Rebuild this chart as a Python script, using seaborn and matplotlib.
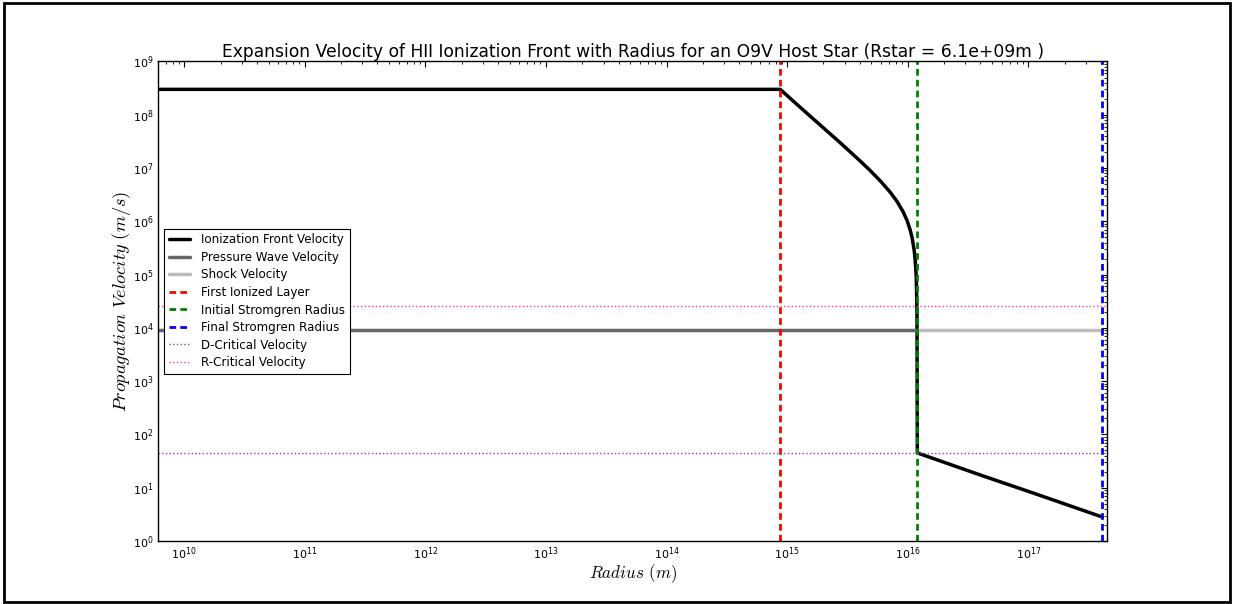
import numpy as np
import pandas as pd
import matplotlib
matplotlib.use("Agg")
import matplotlib.pyplot as plt
import seaborn as sns
from matplotlib.patches import Rectangle
from matplotlib.ticker import NullFormatter

# ---------------- data ----------------
r_star = 6.1e9            # stellar radius (m)
r_first_layer = 8.75e14   # first ionized layer
r_strom_initial = 1.2e16  # initial Stromgren radius
r_strom_final = 4.1e17    # final Stromgren radius

front_r = [6.1e9, 8.75e14, 1.282e15, 1.879e15, 2.75e15, 4.03e15, 4.88e15,
           5.90e15, 7.14e15, 8.17e15, 9.16e15, 9.89e15, 1.047e16, 1.087e16,
           1.13e16, 1.151e16, 1.175e16, 1.192e16, 1.2e16,
           4.22e16, 1.096e17, 4.1e17]
front_v = [3.0e8, 3.0e8, 1.38e8, 6.41e7, 2.99e7, 1.356e7, 8.96e6,
           5.77e6, 3.53e6, 2.34e6, 1.50e6, 1.02e6, 6.87e5, 4.86e5,
           2.85e5, 1.91e5, 9.2e4, 2.0e4, 45.0,
           16.6, 7.95, 2.82]

pressure_r = [6.1e9, 1.2e16]
pressure_v = [9.3e3, 9.3e3]
shock_r = [1.2e16, 4.1e17]
shock_v = [9.3e3, 9.3e3]

d_critical_v = 45.0
r_critical_v = 2.6e4

x_limits = [6.1e9, 4.51e17]
y_limits = [1.0, 1.0e9]
x_ticks = [1e10, 1e11, 1e12, 1e13, 1e14, 1e15, 1e16, 1e17]
y_ticks = [1e0, 1e1, 1e2, 1e3, 1e4, 1e5, 1e6, 1e7, 1e8, 1e9]

title = "Expansion Velocity of HII Ionization Front with Radius for an O9V Host Star (Rstar = 6.1e+09m )"

# ---------------- style ----------------
sns.set_style("white")
plt.rcParams["font.family"] = ["DejaVu Sans"]
plt.rcParams.update({
    "xtick.direction": "in", "ytick.direction": "in",
    "xtick.top": True, "ytick.right": True,
    "xtick.major.size": 4, "ytick.major.size": 4,
    "xtick.minor.size": 2, "ytick.minor.size": 2,
    "xtick.minor.visible": True, "ytick.minor.visible": True,
    "xtick.color": "black", "ytick.color": "black",
    "text.color": "black", "axes.labelcolor": "black",
    "axes.edgecolor": "black", "axes.linewidth": 1.0,
    "xtick.labelsize": 8, "ytick.labelsize": 8,
})

fig = plt.figure(figsize=(12.38, 6.04), dpi=100)
ax = fig.add_axes([0.1279, 0.1043, 0.7665, 0.7939])

front = pd.DataFrame({"r": front_r, "v": front_v})
press = pd.DataFrame({"r": pressure_r, "v": pressure_v})
shock = pd.DataFrame({"r": shock_r, "v": shock_v})

sns.lineplot(data=front, x="r", y="v", ax=ax, color="black", lw=2.5,
             estimator=None, sort=False, label="Ionization Front Velocity")
sns.lineplot(data=press, x="r", y="v", ax=ax, color="#666666", lw=2.5,
             estimator=None, sort=False, label="Pressure Wave Velocity")
sns.lineplot(data=shock, x="r", y="v", ax=ax, color="#bbbbbb", lw=2.5,
             estimator=None, sort=False, label="Shock Velocity")

dash = (2.4, 1.5)
ax.axvline(r_first_layer, color="red", lw=2, dashes=dash, label="First Ionized Layer")
ax.axvline(r_strom_initial, color="green", lw=2, dashes=dash, label="Initial Stromgren Radius")
ax.axvline(r_strom_final, color="blue", lw=2, dashes=dash, label="Final Stromgren Radius")
ax.axhline(d_critical_v, color="#9933aa", lw=1, ls=":", label="D-Critical Velocity")
ax.axhline(r_critical_v, color="#ff3399", lw=1, ls=":", label="R-Critical Velocity")

ax.set_xscale("log")
ax.set_yscale("log")
ax.set_xticks(x_ticks)
ax.set_yticks(y_ticks)
ax.set_xlim(x_limits)
ax.set_ylim(y_limits)
ax.xaxis.set_minor_formatter(NullFormatter())
ax.yaxis.set_minor_formatter(NullFormatter())

ax.set_title(title, fontsize=12.3, pad=3)
ax.set_xlabel(r"$Radius\ (m)$", fontsize=12.3, math_fontfamily="cm", labelpad=0)
ax.set_ylabel(r"$Propagation\ Velocity\ (m/s)$", fontsize=13.2,
              math_fontfamily="cm", labelpad=0)

leg = ax.legend(loc="center left", fontsize=8.6, fancybox=False, framealpha=1,
                edgecolor="black", labelspacing=0.38, borderpad=0.4,
                handlelength=1.75, handletextpad=0.9)
leg.get_frame().set_linewidth(0.8)

for s in ax.spines.values():
    s.set_color("black")
    s.set_linewidth(1.0)

# outer figure frame
fig.patches.append(Rectangle((4 / 1238, 2 / 604), 1226 / 1238, 599 / 604,
                             transform=fig.transFigure, fill=False,
                             edgecolor="black", lw=2.0))

fig.savefig("out.png", dpi=100)
